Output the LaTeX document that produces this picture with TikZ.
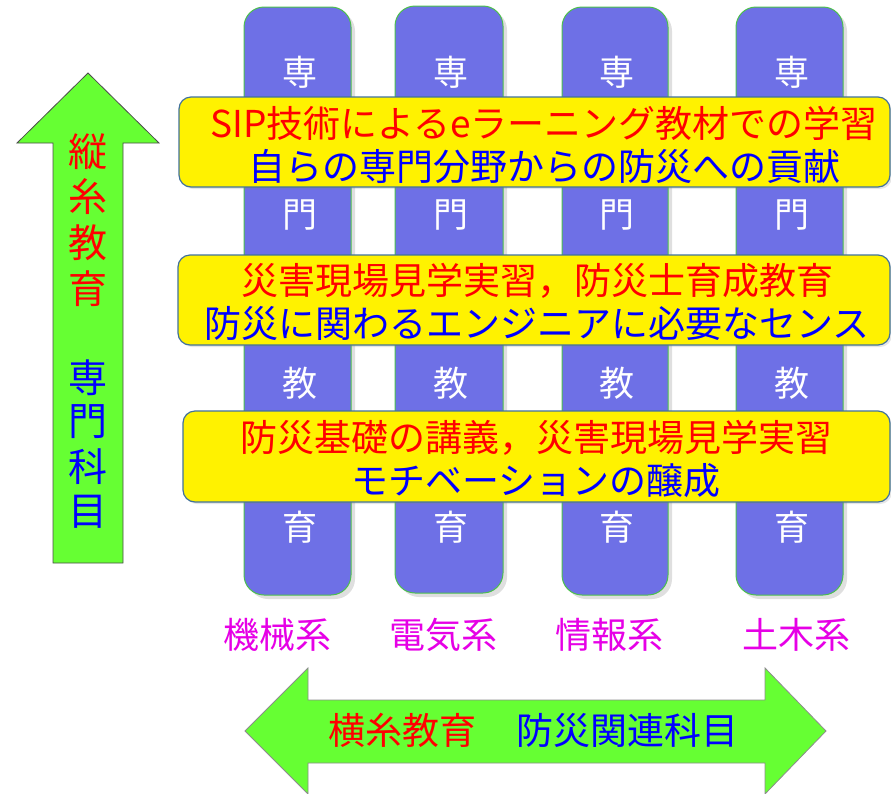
\documentclass[tikz,border=0pt]{standalone}
\usepackage{fontspec}
\setmainfont{Noto Sans CJK JP}
\usetikzlibrary{shadows}
\definecolor{arrgreen}{HTML}{66FF33}
\definecolor{barfill}{HTML}{6E70E6}
\definecolor{barline}{HTML}{4CC04C}
\definecolor{boxline}{HTML}{41719C}
\definecolor{lblmag}{HTML}{E600E6}
\tikzset{
  bar/.style={draw=barline, line width=1pt, fill=barfill, rounded corners=20pt,
    drop shadow={shadow xshift=4pt, shadow yshift=-4pt, opacity=0.25}},
  ybox/.style={draw=boxline, line width=1.2pt, fill=yellow, rounded corners=12pt,
    drop shadow={shadow xshift=2pt, shadow yshift=-2pt, opacity=0.2}},
  arr/.style={draw=black!70, line width=0.8pt, fill=arrgreen},
  barch/.style={text=white, font=\fontsize{35pt}{35pt}\selectfont, inner sep=0pt},
  boxtxt/.style={font=\fontsize{37pt}{43pt}\selectfont, inner sep=0pt, align=center},
  lbl/.style={text=lblmag, font=\fontsize{36pt}{36pt}\selectfont, inner sep=0pt},
  vtxt/.style={font=\fontsize{39pt}{39pt}\selectfont, inner sep=0pt},
}
\begin{document}
\begin{tikzpicture}[x=1pt,y=-1pt]
\useasboundingbox (0,0) rectangle (891,793);
% vertical arrow
\draw[arr] (88,73) -- (159,143) -- (123,143) -- (123,563) -- (53,563) -- (53,143) -- (17,143) -- cycle;
\foreach \t/\y/\c [count=\i] in {縦/152/red,糸/197/red,教/243/red,育/289/red,専/378/blue,門/422/blue,科/467/blue,目/512/blue}
  \node[vtxt, text=\c] (v\i) at (88,\y) {\t};
% bars
\foreach \xl/\xr/\yt/\yb [count=\i] in {244/351/7/595, 395/503/6/593, 562/668/7/595, 736/843/7/595}{
  \draw[bar] (\xl,\yt) rectangle (\xr,\yb);
  \coordinate (c\i) at ({(\xl+\xr)/2+2},0);
  \node[barch] (s\i) at (c\i |- 0,72) {専};
  \node[barch] (m\i) at (c\i |- 0,215) {門};
  \node[barch] (k\i) at (c\i |- 0,383) {教};
  \node[barch] (e\i) at (c\i |- 0,527) {育};
}
% yellow boxes
\draw[ybox] (179,97) rectangle (890,187);
\node[boxtxt] (b1) at (544,145) {\textcolor{red}{SIP技術によるeラーニング教材での学習}\\\textcolor{blue}{自らの専門分野からの防災への貢献}};
\draw[ybox] (178,255) rectangle (890,345);
\node[boxtxt] (b2) at (537,302) {\textcolor{red}{災害現場見学実習，防災士育成教育}\\\textcolor{blue}{防災に関わるエンジニアに必要なセンス}};
\draw[ybox] (183,411) rectangle (890,502);
\node[boxtxt] (b3) at (536,459) {\textcolor{red}{防災基礎の講義，災害現場見学実習}\\\textcolor{blue}{モチベーションの醸成}};
% labels
\node[lbl] (l1) at (277,635) {機械系};
\node[lbl] (l2) at (443,635) {電気系};
\node[lbl] (l3) at (609,635) {情報系};
\node[lbl] (l4) at (796,635) {土木系};
% horizontal double arrow
\draw[arr, draw=black!45] (245,731) -- (308,668) -- (308,700) -- (765,700) -- (765,668) -- (826,731) -- (765,794) -- (765,763) -- (308,763) -- (308,794) -- cycle;
\node[vtxt, font=\fontsize{37pt}{37pt}\selectfont, anchor=west] (h1) at (328,730) {\textcolor{red}{横糸教育}\hspace{40pt}\textcolor{blue}{防災関連科目}};
\end{tikzpicture}
\end{document}
